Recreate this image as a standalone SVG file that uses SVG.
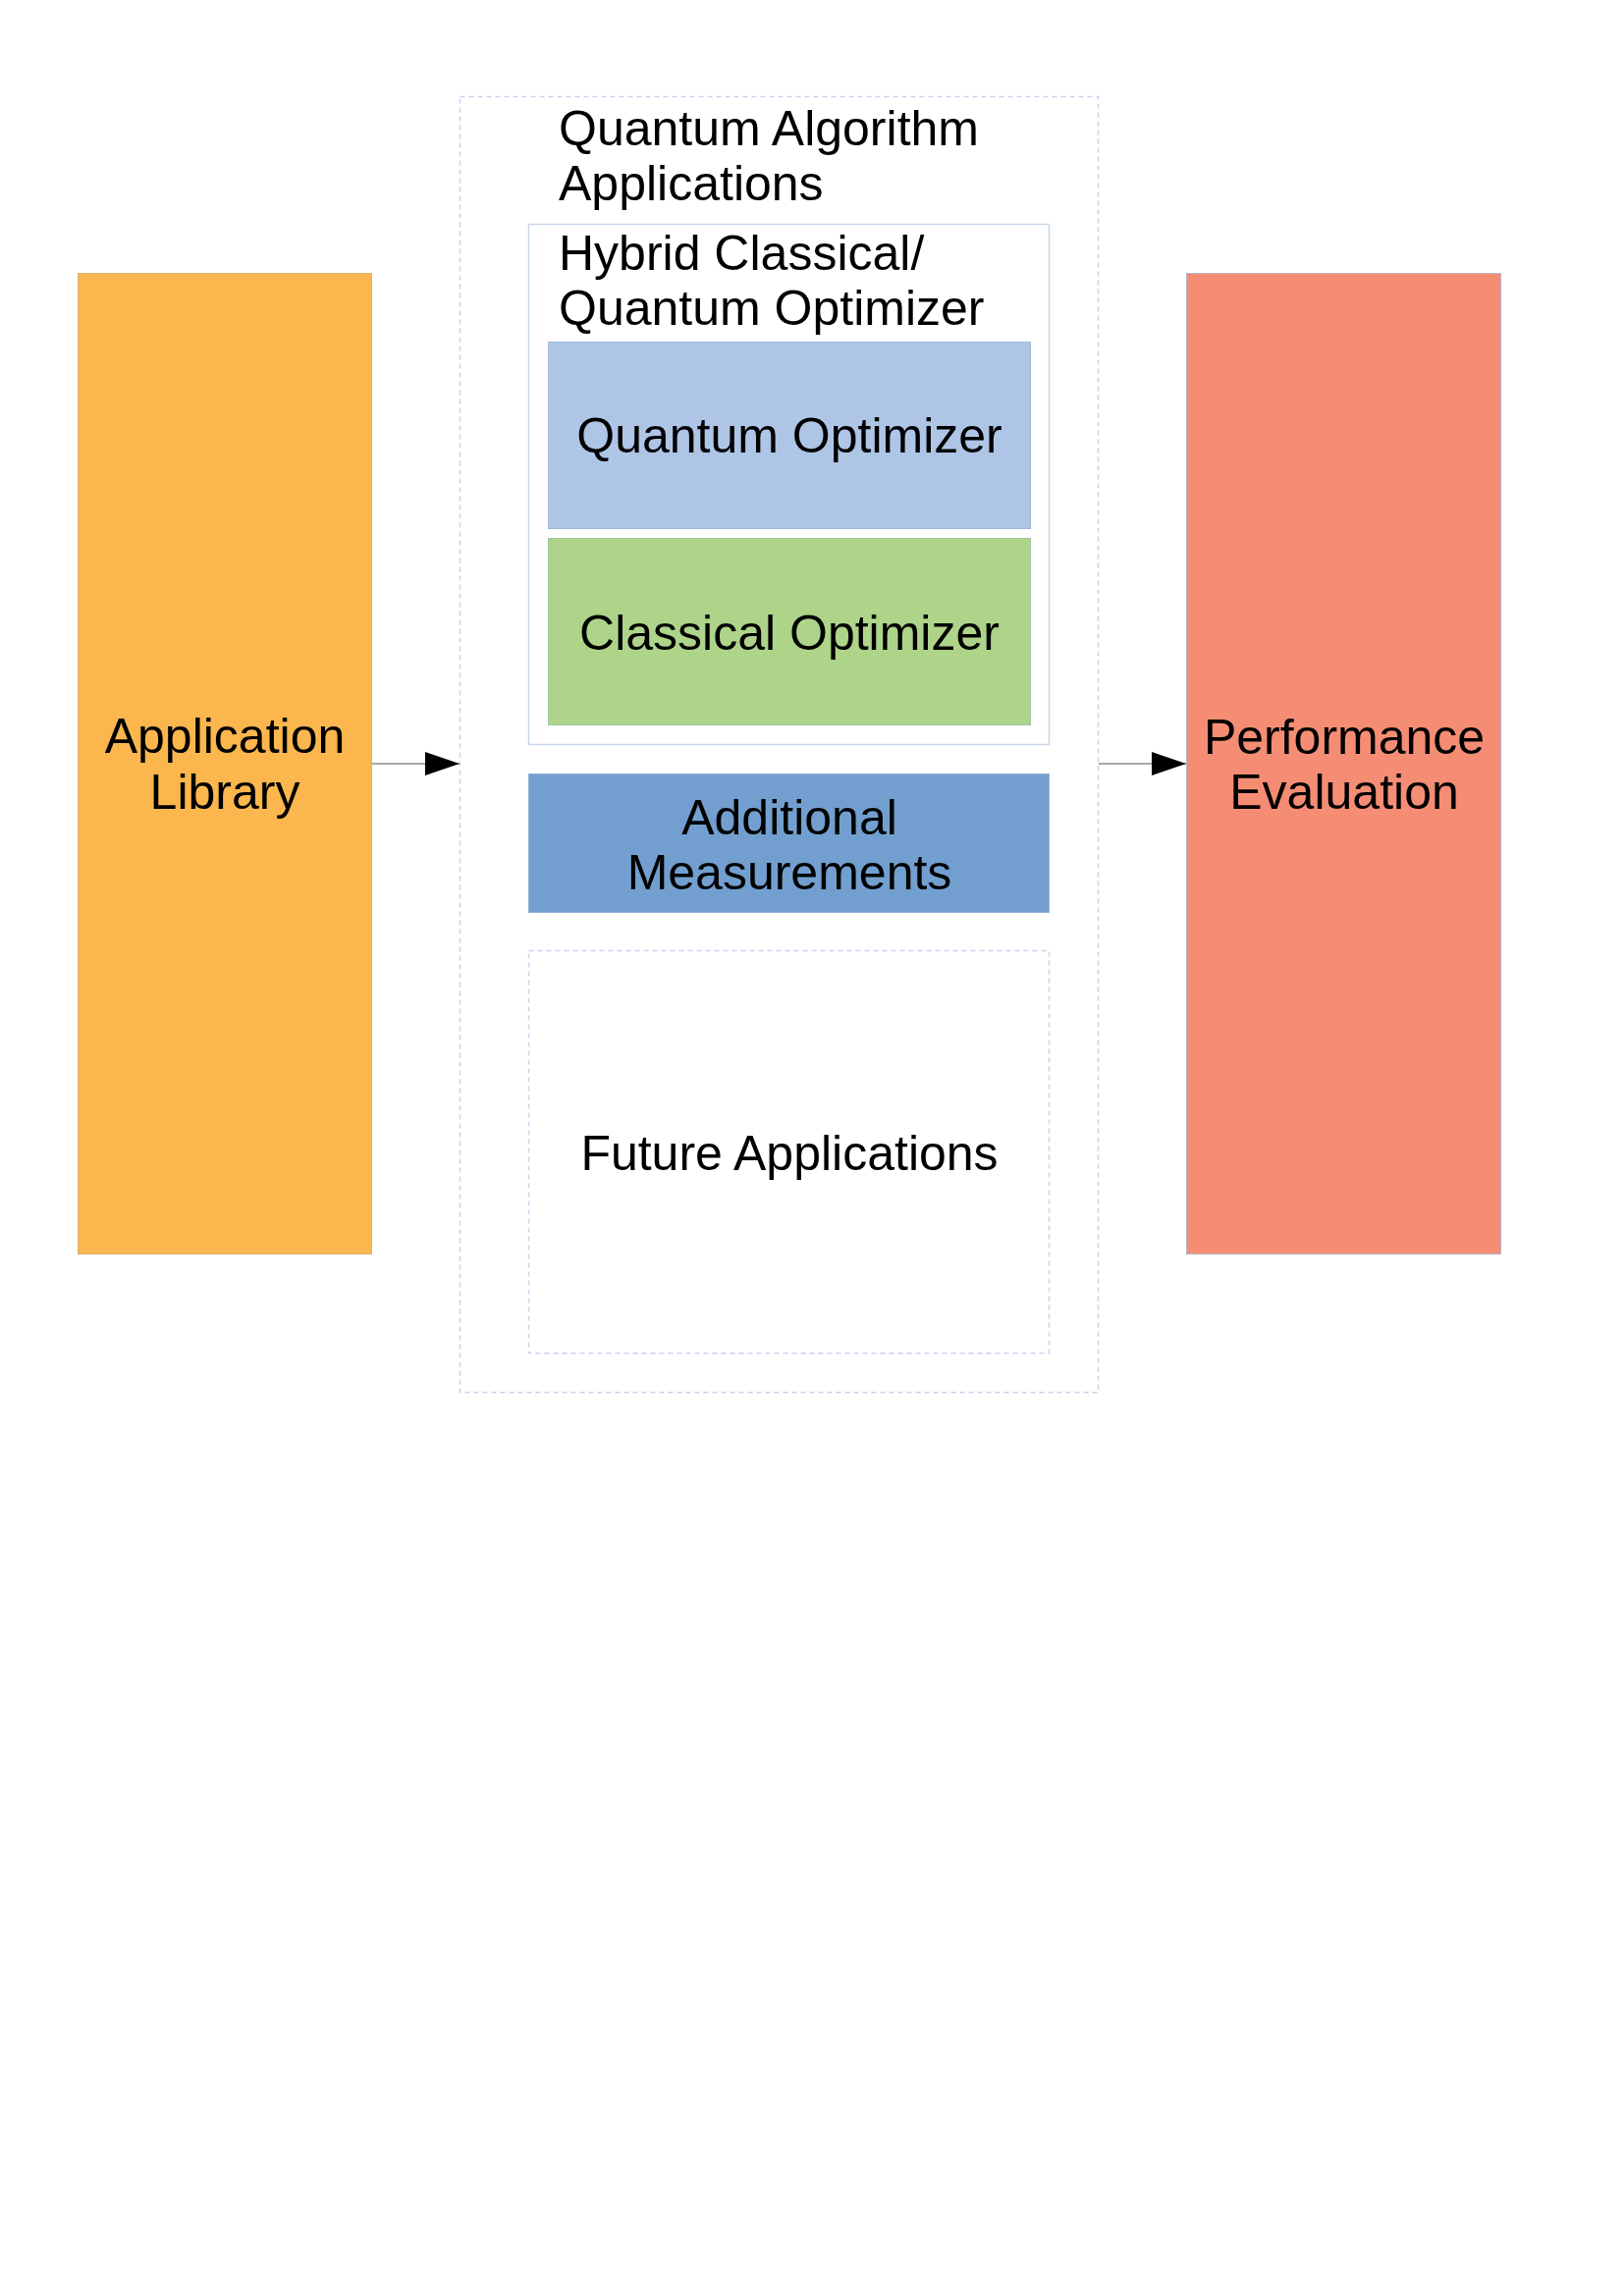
<svg xmlns="http://www.w3.org/2000/svg" width="1654" height="2339" viewBox="0 0 1654 2339">
<style>
text{font-family:"Liberation Sans",Arial,sans-serif;font-size:50px;fill:#000}
.c{text-anchor:middle}
.dash{fill:#fff;stroke:#c5d4e9;stroke-width:1.5;stroke-dasharray:5 4}
.conn{stroke:#8a8a8a;stroke-width:1.5;fill:none}
</style>
<defs>
<marker id="ah" markerWidth="35" markerHeight="24" refX="35" refY="12" orient="auto" markerUnits="userSpaceOnUse">
<polygon points="0,0 35,12 0,24" fill="#000"/>
</marker>
</defs>
<rect width="1654" height="2339" fill="#fff"/>
<g id="quantum-algorithm-applications">
<rect class="dash" x="468.5" y="98.5" width="650" height="1320"/>
<text x="569" y="148">Quantum Algorithm</text>
<text x="569" y="204">Applications</text>
</g>
<g id="hybrid-optimizer">
<rect x="538.5" y="228.5" width="530" height="530" fill="#fff" stroke="#c9d7ea" stroke-width="1.5"/>
<text x="569" y="275">Hybrid Classical/</text>
<text x="569" y="331">Quantum Optimizer</text>
</g>
<g id="quantum-optimizer">
<rect x="558.5" y="348.5" width="491" height="190" fill="#aec5e6" stroke="#9fb7dc" stroke-width="1"/>
<text class="c" x="804" y="461">Quantum Optimizer</text>
</g>
<g id="classical-optimizer">
<rect x="558.5" y="548.5" width="491" height="190" fill="#aed48a" stroke="#9fc3a0" stroke-width="1"/>
<text class="c" x="804" y="662">Classical Optimizer</text>
</g>
<g id="additional-measurements">
<rect x="538.5" y="788.5" width="530" height="141" fill="#729fcf" stroke="#8fb0d8" stroke-width="1"/>
<text class="c" x="804" y="850">Additional</text>
<text class="c" x="804" y="906">Measurements</text>
</g>
<g id="future-applications">
<rect class="dash" x="538.5" y="968.5" width="530" height="410"/>
<text class="c" x="804" y="1192">Future Applications</text>
</g>
<g id="application-library">
<rect x="79.5" y="278.5" width="299" height="999" fill="#fbb64e" stroke="#d8b27a" stroke-width="1"/>
<text class="c" x="229" y="767">Application</text>
<text class="c" x="229" y="824">Library</text>
</g>
<g id="performance-evaluation">
<rect x="1208.5" y="278.5" width="320" height="999" fill="#f58d74" stroke="#b9b4c4" stroke-width="1"/>
<text class="c" x="1369" y="768">Performance</text>
<text class="c" x="1369" y="824">Evaluation</text>
</g>
<g id="connectors">
<line class="conn" x1="379" y1="778" x2="468" y2="778" marker-end="url(#ah)"/>
<line class="conn" x1="1119" y1="778" x2="1208" y2="778" marker-end="url(#ah)"/>
</g>
</svg>
